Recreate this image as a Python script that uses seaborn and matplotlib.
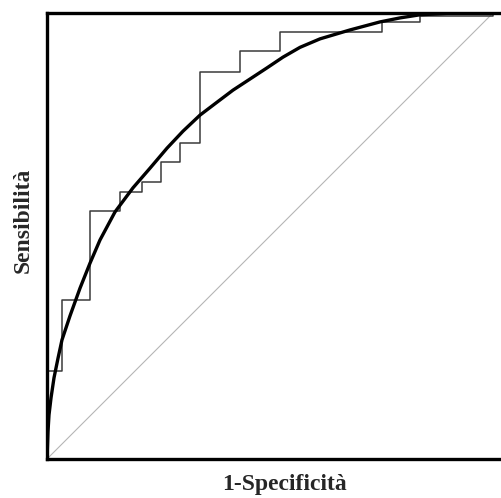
import matplotlib.pyplot as plt
import seaborn as sns

fpr_step = [0.002, 0.034, 0.096, 0.164, 0.213, 0.256, 0.298, 0.343, 0.433, 0.522, 0.751, 0.836, 1.0, 1.0]
tpr_step = [0.0, 0.197, 0.357, 0.555, 0.599, 0.621, 0.666, 0.709, 0.868, 0.915, 0.957, 0.980, 0.993, 1.0]

# fitted smooth ROC curve
fpr_fit = [0.0, 0.0011, 0.0022, 0.0045, 0.009, 0.0157, 0.0247, 0.0336, 0.0516, 0.074,
           0.0964, 0.1188, 0.1525, 0.1928, 0.2309, 0.2691, 0.3049, 0.343, 0.3812, 0.417,
           0.4552, 0.4933, 0.5291, 0.5673, 0.6121, 0.6794, 0.7466, 0.7915, 0.8363, 0.9036, 1.0]
tpr_fit = [0.0, 0.031, 0.061, 0.099, 0.137, 0.182, 0.226, 0.267, 0.321, 0.383,
           0.439, 0.491, 0.554, 0.608, 0.652, 0.697, 0.735, 0.771, 0.800, 0.827,
           0.852, 0.877, 0.901, 0.923, 0.942, 0.962, 0.980, 0.989, 0.996, 0.9996, 1.0]

# chance line
diag = [0.0, 1.0]

sns.set_style('white')
plt.rcParams['font.family'] = ['Liberation Serif', 'DejaVu Serif']

fig = plt.figure(figsize=(5.02, 4.98), dpi=100)
ax = fig.add_axes([47 / 502, 39 / 498, 458 / 502, 446 / 498])

sns.lineplot(x=diag, y=diag, ax=ax, color='#b5b5b5', linewidth=0.8)
sns.lineplot(x=fpr_step, y=tpr_step, ax=ax, color='#3a3a3a', linewidth=1.1,
             drawstyle='steps-pre', estimator=None, sort=False)
sns.lineplot(x=fpr_fit, y=tpr_fit, ax=ax, color='black', linewidth=2.4,
             estimator=None, sort=False, solid_joinstyle='round')

ax.set_xlim(0, 458 / 446)
ax.set_ylim(0, 1)
ax.set_xticks([])
ax.set_yticks([])

for side in ['left', 'bottom', 'top']:
    ax.spines[side].set_linewidth(2.4)
    ax.spines[side].set_color('black')
ax.spines['right'].set_visible(False)

ax.set_xlabel('1-Specificità', fontsize=17, fontweight='bold')
ax.set_ylabel('Sensibilità', fontsize=17, fontweight='bold')
ax.xaxis.set_label_coords((285 - 47) / 458, -(474 - 459) / 446)
ax.yaxis.set_label_coords(-(47 - 34) / 458, (459 - 220) / 446)

fig.savefig('out.png', dpi=100)
